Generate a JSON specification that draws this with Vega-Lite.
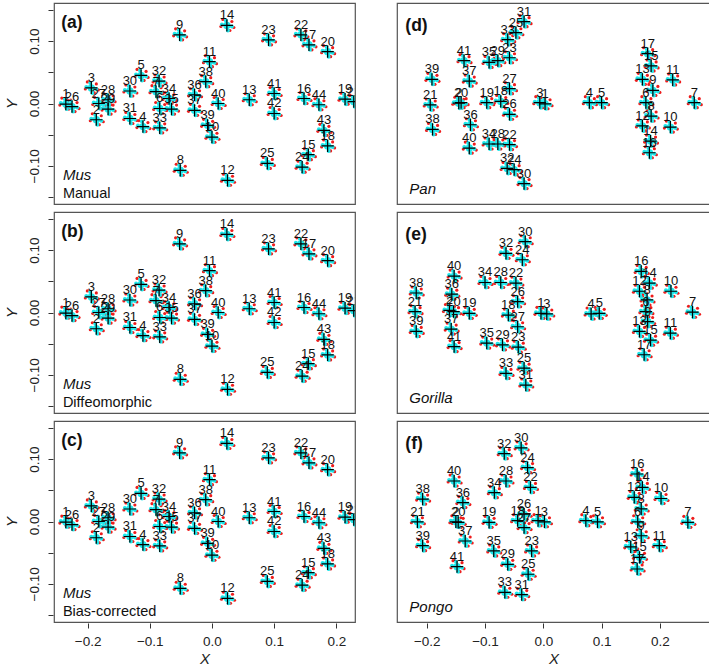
{
"$schema": "https://vega.github.io/schema/vega-lite/v6.json",
"padding": {"left": 4, "top": 2, "right": 3, "bottom": 0},
"spacing": 40,
"config": {
 "font": "Liberation Sans",
 "view": {"stroke": "#555", "strokeWidth": 1.2},
 "axis": {"grid": false, "domain": false, "tickColor": "#333", "tickSize": 5, "labelFontSize": 13.5, "labelColor": "#222", "titleFontSize": 15, "titleFontStyle": "italic", "titleFontWeight": "normal", "titleColor": "#222", "labelOverlap": false},
 "axisX": {"labelPadding": 6, "titlePadding": 4}
},
"hconcat": [
{
 "data": {"values": [
  {"p":["a"],"k":"L","t":"(a)"},{"p":["a"],"k":"S","t":"Mus"},{"p":["a"],"k":"M","t":"Manual"},
  {"p":["b"],"k":"L","t":"(b)"},{"p":["b"],"k":"S","t":"Mus"},{"p":["b"],"k":"M","t":"Diffeomorphic"},
  {"p":["c"],"k":"L","t":"(c)"},{"p":["c"],"k":"S","t":"Mus"},{"p":["c"],"k":"M","t":"Bias-corrected"},
  {"p":["a","b","c"],"n":1,"x":-0.235,"y":-0.001},
  {"p":["a","b","c"],"n":2,"x":-0.186,"y":-0.026},
  {"p":["a","b","c"],"n":3,"x":-0.194,"y":0.025},
  {"p":["a","b","c"],"n":4,"x":-0.111,"y":-0.037},
  {"p":["a","b","c"],"n":5,"x":-0.114,"y":0.045},
  {"p":["a","b","c"],"n":6,"x":-0.084,"y":-0.008},
  {"p":["a","b","c"],"n":7,"x":-0.090,"y":0.019},
  {"p":["a","b","c"],"n":8,"x":-0.051,"y":-0.107},
  {"p":["a","b","c"],"n":9,"x":-0.052,"y":0.110},
  {"p":["a","b","c"],"n":10,"x":0.000,"y":-0.054},
  {"p":["a","b","c"],"n":11,"x":-0.004,"y":0.067},
  {"p":["a","b","c"],"n":12,"x":0.025,"y":-0.123},
  {"p":["a","b","c"],"n":13,"x":0.060,"y":0.006},
  {"p":["a","b","c"],"n":14,"x":0.024,"y":0.125},
  {"p":["a","b","c"],"n":15,"x":0.155,"y":-0.082},
  {"p":["a","b","c"],"n":16,"x":0.148,"y":0.008},
  {"p":["a","b","c"],"n":17,"x":0.156,"y":0.094},
  {"p":["a","b","c"],"n":18,"x":0.186,"y":-0.068},
  {"p":["a","b","c"],"n":19,"x":0.214,"y":0.007},
  {"p":["a","b","c"],"n":20,"x":0.186,"y":0.083},
  {"p":["a","b","c"],"n":21,"x":0.228,"y":0.003},
  {"p":["a","b","c"],"n":22,"x":0.143,"y":0.110},
  {"p":["a","b","c"],"n":23,"x":0.091,"y":0.102},
  {"p":["a","b","c"],"n":24,"x":0.145,"y":-0.102},
  {"p":["a","b","c"],"n":25,"x":0.089,"y":-0.096},
  {"p":["a","b","c"],"n":26,"x":-0.225,"y":-0.005},
  {"p":["a","b","c"],"n":27,"x":-0.182,"y":0.000},
  {"p":["a","b","c"],"n":28,"x":-0.167,"y":0.006},
  {"p":["a","b","c"],"n":29,"x":-0.167,"y":-0.009},
  {"p":["a","b","c"],"n":30,"x":-0.132,"y":0.020},
  {"p":["a","b","c"],"n":31,"x":-0.132,"y":-0.024},
  {"p":["a","b","c"],"n":32,"x":-0.085,"y":0.036},
  {"p":["a","b","c"],"n":33,"x":-0.084,"y":-0.039},
  {"p":["a","b","c"],"n":34,"x":-0.069,"y":0.008},
  {"p":["a","b","c"],"n":35,"x":-0.065,"y":-0.009},
  {"p":["a","b","c"],"n":36,"x":-0.028,"y":0.014},
  {"p":["a","b","c"],"n":37,"x":-0.028,"y":-0.011},
  {"p":["a","b","c"],"n":38,"x":-0.010,"y":0.035},
  {"p":["a","b","c"],"n":39,"x":-0.007,"y":-0.035},
  {"p":["a","b","c"],"n":40,"x":0.010,"y":0.000},
  {"p":["a","b","c"],"n":41,"x":0.100,"y":0.016},
  {"p":["a","b","c"],"n":42,"x":0.100,"y":-0.016},
  {"p":["a","b","c"],"n":43,"x":0.180,"y":-0.043},
  {"p":["a","b","c"],"n":44,"x":0.172,"y":-0.002}
 ]},
 "transform": [{"flatten": ["p"]}],
 "facet": {"row": {"field": "p", "type": "nominal", "header": {"labels": false, "title": null}}},
 "spacing": {"row": 6},
 "spec": {
  "width": 301, "height": 201,
  "layer": [
   {"transform": [{"filter": "datum.n > 0"}], "encoding": {
     "x": {"field": "x", "type": "quantitative", "scale": {"domain": [-0.254, 0.23], "nice": false, "zero": false}, "axis": {"values": [-0.2, -0.1, 0, 0.1, 0.2], "format": ".1f", "title": "X"}},
     "y": {"field": "y", "type": "quantitative", "scale": {"domain": [-0.161, 0.161], "nice": false, "zero": false}, "axis": {"values": [-0.15, -0.1, -0.05, 0, 0.05, 0.1, 0.15], "labelExpr": "abs(datum.value) > 0.12 || abs(abs(datum.value) - 0.05) < 0.001 ? '' : format(datum.value, '.2f')", "labelAngle": -90, "labelPadding": 7, "titlePadding": 8, "title": "Y"}}
    },
    "layer": [
     {"mark": {"type": "circle", "size": 10, "color": "#ee1c1c", "opacity": 1, "xOffset": -6, "yOffset": 1, "clip": true}},
     {"mark": {"type": "circle", "size": 10, "color": "#ee1c1c", "opacity": 1, "xOffset": 5, "yOffset": -4, "clip": true}},
     {"mark": {"type": "circle", "size": 10, "color": "#ee1c1c", "opacity": 1, "xOffset": 3, "yOffset": 5, "clip": true}},
     {"mark": {"type": "circle", "size": 10, "color": "#ee1c1c", "opacity": 1, "xOffset": -4, "yOffset": -6, "clip": true}},
     {"mark": {"type": "circle", "size": 10, "color": "#ee1c1c", "opacity": 1, "xOffset": 7, "yOffset": 2, "clip": true}},
     {"mark": {"type": "circle", "size": 55, "color": "#1ee6ea", "opacity": 1, "clip": true}},
     {"mark": {"type": "circle", "size": 16, "color": "#1ee6ea", "opacity": 1, "xOffset": -5, "yOffset": -1, "clip": true}},
     {"mark": {"type": "circle", "size": 16, "color": "#1ee6ea", "opacity": 1, "xOffset": 5, "yOffset": 1, "clip": true}},
     {"mark": {"type": "circle", "size": 16, "color": "#1ee6ea", "opacity": 1, "xOffset": 1, "yOffset": 5, "clip": true}},
     {"mark": {"type": "circle", "size": 16, "color": "#1ee6ea", "opacity": 1, "xOffset": -1, "yOffset": -5, "clip": true}},
     {"mark": {"type": "point", "shape": "M-1,0L1,0M0,-1L0,1", "size": 150, "filled": false, "stroke": "#000", "strokeWidth": 1.2, "opacity": 1, "clip": true}},
     {"mark": {"type": "text", "fontSize": 13, "dy": -10, "color": "#111", "clip": true}, "encoding": {"text": {"field": "n", "type": "nominal"}}}
    ]
   },
   {"transform": [{"filter": "datum.k == 'L'"}], "mark": {"type": "text", "align": "left", "baseline": "middle", "fontSize": 17.5, "fontWeight": "bold", "color": "#111"}, "encoding": {
     "x": {"datum": -0.2424, "type": "quantitative", "axis": {"values": [-0.2, -0.1, 0, 0.1, 0.2], "format": ".1f", "title": "X"}},
     "y": {"datum": 0.1295, "type": "quantitative", "axis": {"values": [-0.15, -0.1, -0.05, 0, 0.05, 0.1, 0.15], "labelExpr": "abs(datum.value) > 0.12 || abs(abs(datum.value) - 0.05) < 0.001 ? '' : format(datum.value, '.2f')", "labelAngle": -90, "labelPadding": 7, "titlePadding": 8, "title": "Y"}},
     "text": {"field": "t", "type": "nominal"}}},
   {"transform": [{"filter": "datum.k == 'S'"}], "mark": {"type": "text", "align": "left", "baseline": "middle", "fontSize": 15, "fontStyle": "italic", "color": "#111"}, "encoding": {
     "x": {"datum": -0.2397, "type": "quantitative", "axis": {"values": [-0.2, -0.1, 0, 0.1, 0.2], "format": ".1f", "title": "X"}},
     "y": {"datum": -0.1145, "type": "quantitative", "axis": {"values": [-0.15, -0.1, -0.05, 0, 0.05, 0.1, 0.15], "labelExpr": "abs(datum.value) > 0.12 || abs(abs(datum.value) - 0.05) < 0.001 ? '' : format(datum.value, '.2f')", "labelAngle": -90, "labelPadding": 7, "titlePadding": 8, "title": "Y"}},
     "text": {"field": "t", "type": "nominal"}}},
   {"transform": [{"filter": "datum.k == 'M'"}], "mark": {"type": "text", "align": "left", "baseline": "middle", "fontSize": 14.5, "color": "#111"}, "encoding": {
     "x": {"datum": -0.2397, "type": "quantitative", "axis": {"values": [-0.2, -0.1, 0, 0.1, 0.2], "format": ".1f", "title": "X"}},
     "y": {"datum": -0.1445, "type": "quantitative", "axis": {"values": [-0.15, -0.1, -0.05, 0, 0.05, 0.1, 0.15], "labelExpr": "abs(datum.value) > 0.12 || abs(abs(datum.value) - 0.05) < 0.001 ? '' : format(datum.value, '.2f')", "labelAngle": -90, "labelPadding": 7, "titlePadding": 8, "title": "Y"}},
     "text": {"field": "t", "type": "nominal"}}}
  ]
 }
},
{
 "data": {"values": [
  {"p":"d","k":"L","t":"(d)"},{"p":"d","k":"S","t":"Pan"},
  {"p":"e","k":"L","t":"(e)"},{"p":"e","k":"S","t":"Gorilla"},
  {"p":"f","k":"L","t":"(f)"},{"p":"f","k":"S","t":"Pongo"},
  {"p":"d","n":1,"x":0.003,"y":-0.001},{"p":"d","n":2,"x":-0.145,"y":0.000},{"p":"d","n":3,"x":-0.006,"y":0.001},{"p":"d","n":4,"x":0.079,"y":0.001},{"p":"d","n":5,"x":0.100,"y":0.001},{"p":"d","n":6,"x":0.176,"y":0.001},{"p":"d","n":7,"x":0.259,"y":0.001},{"p":"d","n":8,"x":0.185,"y":-0.022},{"p":"d","n":9,"x":0.188,"y":0.022},{"p":"d","n":10,"x":0.218,"y":-0.041},{"p":"d","n":11,"x":0.222,"y":0.040},{"p":"d","n":12,"x":0.170,"y":-0.039},{"p":"d","n":13,"x":0.170,"y":0.041},{"p":"d","n":14,"x":0.184,"y":-0.065},{"p":"d","n":15,"x":0.185,"y":0.064},{"p":"d","n":16,"x":0.182,"y":-0.085},{"p":"d","n":17,"x":0.179,"y":0.085},{"p":"d","n":18,"x":-0.073,"y":0.003},{"p":"d","n":19,"x":-0.097,"y":0.001},{"p":"d","n":20,"x":-0.141,"y":0.001},{"p":"d","n":21,"x":-0.194,"y":-0.003},{"p":"d","n":22,"x":-0.058,"y":-0.071},{"p":"d","n":23,"x":-0.058,"y":0.078},{"p":"d","n":24,"x":-0.050,"y":-0.114},{"p":"d","n":25,"x":-0.047,"y":0.121},{"p":"d","n":26,"x":-0.058,"y":-0.019},{"p":"d","n":27,"x":-0.058,"y":0.025},{"p":"d","n":28,"x":-0.078,"y":-0.070},{"p":"d","n":29,"x":-0.078,"y":0.073},{"p":"d","n":30,"x":-0.033,"y":-0.138},{"p":"d","n":31,"x":-0.033,"y":0.140},{"p":"d","n":32,"x":-0.062,"y":-0.112},{"p":"d","n":33,"x":-0.061,"y":0.109},{"p":"d","n":34,"x":-0.093,"y":-0.070},{"p":"d","n":35,"x":-0.093,"y":0.070},{"p":"d","n":36,"x":-0.125,"y":-0.037},{"p":"d","n":37,"x":-0.127,"y":0.038},{"p":"d","n":38,"x":-0.190,"y":-0.045},{"p":"d","n":39,"x":-0.191,"y":0.041},{"p":"d","n":40,"x":-0.127,"y":-0.077},{"p":"d","n":41,"x":-0.136,"y":0.073},
  {"p":"e","n":1,"x":-0.004,"y":-0.002},{"p":"e","n":2,"x":-0.161,"y":0.003},{"p":"e","n":3,"x":0.006,"y":-0.003},{"p":"e","n":4,"x":0.082,"y":-0.003},{"p":"e","n":5,"x":0.096,"y":-0.002},{"p":"e","n":6,"x":0.176,"y":0.001},{"p":"e","n":7,"x":0.256,"y":0.000},{"p":"e","n":8,"x":0.178,"y":0.021},{"p":"e","n":9,"x":0.179,"y":-0.016},{"p":"e","n":10,"x":0.219,"y":0.036},{"p":"e","n":11,"x":0.218,"y":-0.036},{"p":"e","n":12,"x":0.165,"y":0.036},{"p":"e","n":13,"x":0.165,"y":-0.033},{"p":"e","n":14,"x":0.182,"y":0.050},{"p":"e","n":15,"x":0.184,"y":-0.048},{"p":"e","n":16,"x":0.168,"y":0.070},{"p":"e","n":17,"x":0.173,"y":-0.073},{"p":"e","n":18,"x":-0.060,"y":-0.005},{"p":"e","n":19,"x":-0.127,"y":-0.002},{"p":"e","n":20,"x":-0.154,"y":0.001},{"p":"e","n":21,"x":-0.220,"y":0.001},{"p":"e","n":22,"x":-0.047,"y":0.050},{"p":"e","n":23,"x":-0.043,"y":-0.060},{"p":"e","n":24,"x":-0.036,"y":0.090},{"p":"e","n":25,"x":-0.033,"y":-0.096},{"p":"e","n":26,"x":-0.044,"y":0.018},{"p":"e","n":27,"x":-0.044,"y":-0.025},{"p":"e","n":28,"x":-0.073,"y":0.051},{"p":"e","n":29,"x":-0.070,"y":-0.056},{"p":"e","n":30,"x":-0.031,"y":0.121},{"p":"e","n":31,"x":-0.030,"y":-0.125},{"p":"e","n":32,"x":-0.064,"y":0.101},{"p":"e","n":33,"x":-0.064,"y":-0.105},{"p":"e","n":34,"x":-0.100,"y":0.051},{"p":"e","n":35,"x":-0.097,"y":-0.053},{"p":"e","n":36,"x":-0.157,"y":0.031},{"p":"e","n":37,"x":-0.158,"y":-0.029},{"p":"e","n":38,"x":-0.218,"y":0.033},{"p":"e","n":39,"x":-0.218,"y":-0.033},{"p":"e","n":40,"x":-0.153,"y":0.062},{"p":"e","n":41,"x":-0.153,"y":-0.059},
  {"p":"f","n":1,"x":-0.009,"y":0.001},{"p":"f","n":2,"x":-0.150,"y":-0.001},{"p":"f","n":3,"x":0.002,"y":-0.001},{"p":"f","n":4,"x":0.073,"y":0.001},{"p":"f","n":5,"x":0.093,"y":-0.001},{"p":"f","n":6,"x":0.162,"y":-0.001},{"p":"f","n":7,"x":0.248,"y":-0.002},{"p":"f","n":8,"x":0.168,"y":0.021},{"p":"f","n":9,"x":0.168,"y":-0.025},{"p":"f","n":10,"x":0.202,"y":0.039},{"p":"f","n":11,"x":0.199,"y":-0.042},{"p":"f","n":12,"x":0.156,"y":0.041},{"p":"f","n":13,"x":0.150,"y":-0.044},{"p":"f","n":14,"x":0.170,"y":0.058},{"p":"f","n":15,"x":0.165,"y":-0.062},{"p":"f","n":16,"x":0.161,"y":0.081},{"p":"f","n":17,"x":0.161,"y":-0.082},{"p":"f","n":18,"x":-0.044,"y":0.001},{"p":"f","n":19,"x":-0.093,"y":-0.002},{"p":"f","n":20,"x":-0.146,"y":-0.002},{"p":"f","n":21,"x":-0.216,"y":-0.001},{"p":"f","n":22,"x":-0.022,"y":0.058},{"p":"f","n":23,"x":-0.020,"y":-0.051},{"p":"f","n":24,"x":-0.027,"y":0.092},{"p":"f","n":25,"x":-0.026,"y":-0.091},{"p":"f","n":26,"x":-0.033,"y":0.012},{"p":"f","n":27,"x":-0.033,"y":-0.011},{"p":"f","n":28,"x":-0.064,"y":0.069},{"p":"f","n":29,"x":-0.061,"y":-0.074},{"p":"f","n":30,"x":-0.038,"y":0.126},{"p":"f","n":31,"x":-0.037,"y":-0.126},{"p":"f","n":32,"x":-0.067,"y":0.116},{"p":"f","n":33,"x":-0.066,"y":-0.122},{"p":"f","n":34,"x":-0.084,"y":0.049},{"p":"f","n":35,"x":-0.085,"y":-0.051},{"p":"f","n":36,"x":-0.138,"y":0.032},{"p":"f","n":37,"x":-0.134,"y":-0.034},{"p":"f","n":38,"x":-0.207,"y":0.038},{"p":"f","n":39,"x":-0.207,"y":-0.042},{"p":"f","n":40,"x":-0.153,"y":0.069},{"p":"f","n":41,"x":-0.148,"y":-0.078}
 ]},
 "facet": {"row": {"field": "p", "type": "nominal", "header": {"labels": false, "title": null}}},
 "spacing": {"row": 6},
 "spec": {
  "width": 313, "height": 201,
  "layer": [
   {"transform": [{"filter": "datum.n > 0"}], "encoding": {
     "x": {"field": "x", "type": "quantitative", "scale": {"domain": [-0.251, 0.286], "nice": false, "zero": false}, "axis": {"values": [-0.2, -0.1, 0, 0.1, 0.2], "format": ".1f", "title": "X"}},
     "y": {"field": "y", "type": "quantitative", "scale": {"domain": [-0.173, 0.172], "nice": false, "zero": false}, "axis": null}
    },
    "layer": [
     {"mark": {"type": "circle", "size": 10, "color": "#ee1c1c", "opacity": 1, "xOffset": -6, "yOffset": 1, "clip": true}},
     {"mark": {"type": "circle", "size": 10, "color": "#ee1c1c", "opacity": 1, "xOffset": 5, "yOffset": -4, "clip": true}},
     {"mark": {"type": "circle", "size": 10, "color": "#ee1c1c", "opacity": 1, "xOffset": 3, "yOffset": 5, "clip": true}},
     {"mark": {"type": "circle", "size": 10, "color": "#ee1c1c", "opacity": 1, "xOffset": -4, "yOffset": -6, "clip": true}},
     {"mark": {"type": "circle", "size": 10, "color": "#ee1c1c", "opacity": 1, "xOffset": 7, "yOffset": 2, "clip": true}},
     {"mark": {"type": "circle", "size": 55, "color": "#1ee6ea", "opacity": 1, "clip": true}},
     {"mark": {"type": "circle", "size": 16, "color": "#1ee6ea", "opacity": 1, "xOffset": -5, "yOffset": -1, "clip": true}},
     {"mark": {"type": "circle", "size": 16, "color": "#1ee6ea", "opacity": 1, "xOffset": 5, "yOffset": 1, "clip": true}},
     {"mark": {"type": "circle", "size": 16, "color": "#1ee6ea", "opacity": 1, "xOffset": 1, "yOffset": 5, "clip": true}},
     {"mark": {"type": "circle", "size": 16, "color": "#1ee6ea", "opacity": 1, "xOffset": -1, "yOffset": -5, "clip": true}},
     {"mark": {"type": "point", "shape": "M-1,0L1,0M0,-1L0,1", "size": 150, "filled": false, "stroke": "#000", "strokeWidth": 1.2, "opacity": 1, "clip": true}},
     {"mark": {"type": "text", "fontSize": 13, "dy": -10, "color": "#111", "clip": true}, "encoding": {"text": {"field": "n", "type": "nominal"}}}
    ]
   },
   {"transform": [{"filter": "datum.k == 'L'"}], "mark": {"type": "text", "align": "left", "baseline": "middle", "fontSize": 17.5, "fontWeight": "bold", "color": "#111"}, "encoding": {"x": {"datum": -0.2367, "type": "quantitative", "axis": {"values": [-0.2, -0.1, 0, 0.1, 0.2], "format": ".1f", "title": "X"}}, "y": {"datum": 0.132, "type": "quantitative", "axis": null}, "text": {"field": "t", "type": "nominal"}}},
   {"transform": [{"filter": "datum.k == 'S'"}], "mark": {"type": "text", "align": "left", "baseline": "middle", "fontSize": 15, "fontStyle": "italic", "color": "#111"}, "encoding": {"x": {"datum": -0.2298, "type": "quantitative", "axis": {"values": [-0.2, -0.1, 0, 0.1, 0.2], "format": ".1f", "title": "X"}}, "y": {"datum": -0.147, "type": "quantitative", "axis": null}, "text": {"field": "t", "type": "nominal"}}}
  ]
 }
}
]
}
